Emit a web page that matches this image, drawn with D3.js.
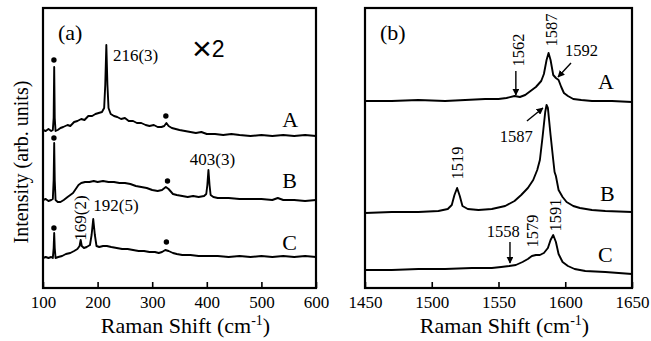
<!DOCTYPE html>
<meta charset="utf-8">
<script src="https://d3js.org/d3.v7.min.js"></script>
<style>
  body { margin: 0; background: #fff; }
  text { font-family: "Liberation Serif", "Times New Roman", serif; fill: #000; }
</style>
<div id="my_dataviz"></div>
<script>

// ---- data (x in cm-1, y in arb. units, traces offset) ----
var ticksA = [100, 200, 300, 400, 500, 600];
var ticksB = [1450, 1500, 1550, 1600, 1650];

// panel (a), low frequency
var lowA = [[100,158],[105,157],[110,159],[115,157],[118,158],[119.5,170],[120.5,221],[121.5,170],[123,157],
  [127,158],[132,160],[137,161],[145,163],[150,162],[157,166],[163,167],[170,169],[176,168],[183,172],[190,172],
  [196,174],[202,175],[208,176],[212,180],[214,203],[216,243],[218,203],[220,180],[224,174],[230,172],[236,171],
  [243,169],[250,170],[257,167],[265,167],[272,165],[280,165],[288,163],[295,162],[303,163],[310,161],[317,161],
  [322,162],[326,165],[330,162],[336,160],[343,159],[350,158],[360,157],[370,156],[380,155],[390,156],[400,154],
  [415,154],[430,153],[445,154],[460,153],[480,152],[500,153],[520,152],[540,153],[560,152],[580,153],[600,152]];
var lowB = [[100,88],[105,89],[110,87],[115,88],[118,89],[119.5,108],[120.5,145],[121.5,108],[123,88],[127,86],
  [132,86],[138,88],[145,91],[150,93],[155,95],[160,99],[165,103],[170,105],[177,106],[185,106],[193,107],
  [200,106],[210,107],[220,106],[230,106],[240,105],[250,105],[260,104],[270,102],[280,101],[290,100],[300,98],
  [310,97],[318,98],[325,101],[330,99],[338,94],[345,93],[355,92],[365,91],[375,92],[385,91],[395,92],[399,94],
  [401,103],[403,118],[405,103],[407,93],[412,91],[420,90],[440,90],[460,89],[480,89],[500,89],[520,88],
  [530,90],[540,88],[560,88],[580,87],[600,88]];
var lowC = [[100,30],[105,31],[110,30],[115,31],[118,30],[119.5,40],[120.5,55],[121.5,40],[123,30],[128,31],
  [135,32],[142,34],[150,35],[157,37],[163,39],[167,42],[169,48],[171,42],[175,40],[180,41],[186,43],[189,53],
  [192,69],[195,53],[198,42],[203,41],[210,42],[217,42],[225,41],[235,40],[245,39],[255,39],[265,38],[275,37],
  [285,37],[295,36],[305,36],[312,35],[318,36],[324,38],[330,37],[338,35],[345,34],[355,33],[370,33],[385,32],
  [400,32],[420,32],[440,31],[460,32],[480,31],[500,32],[520,31],[540,32],[560,31],[580,32],[600,31]];

// panel (b), G band region
var highA = [[1450,187],[1470,187],[1490,188],[1510,187],[1525,188],[1540,189],[1550,189],[1556,190],[1562,192],
  [1566,191],[1570,193],[1574,197],[1578,201],[1582,207],[1584,214],[1586,228],[1587.5,235],[1589,228],
  [1591,213],[1593,210],[1595,208],[1597,201],[1599,195],[1602,192],[1606,189],[1612,188],[1620,187],
  [1635,187],[1650,186]];
var highB = [[1450,75],[1470,76],[1490,76],[1505,77],[1512,79],[1515,83],[1517,93],[1519,100],[1521,92],
  [1523,82],[1527,79],[1535,78],[1545,79],[1555,82],[1562,87],[1567,93],[1572,100],[1576,108],[1579,118],
  [1581,128],[1583,151],[1585,176],[1586,183],[1587,180],[1589,153],[1591,128],[1592,116],[1593,112],
  [1595,98],[1598,91],[1601,86],[1606,82],[1611,80],[1620,78],[1630,77],[1650,76]];
var highC = [[1450,18],[1470,18],[1490,19],[1510,19],[1530,20],[1545,20],[1552,21],[1558,22],[1563,23],
  [1568,26],[1572,29],[1575,32],[1578,33],[1581,33],[1584,35],[1587,40],[1589,48],[1591,53],[1593,46],
  [1595,34],[1598,26],[1602,22],[1607,19],[1615,17],[1630,16],[1650,14]];

// plasma line markers (dots) in panel (a)
var dotsA = [[120,228],[325,172],[120,150],[328,107],[120,60],[326,46]];

// text labels: [text, x, y, anchor, rotated]
var labelsA = [["216(3)",228,227,"start",false],["403(3)",369,123,"start",false],
  ["192(5)",192,77,"start",false],["169(2)",168,70,"middle",true],
  ["A",538,161,"start",false],["B",538,100,"start",false],["C",538,38,"start",false]];
var labelsB = [["1562",1564.6,238,"middle",true],["1587",1589.3,258,"middle",true],
  ["1592",1599.8,232,"start",false],["1587",1551,146,"start",false],
  ["1519",1519,125,"middle",true],["1558",1566,51,"end",false],
  ["1579",1575,57,"middle",true],["1591",1592.3,73,"middle",true],
  ["A",1624.5,199,"start",false],["B",1626,87,"start",false],["C",1624.5,26,"start",false]];

// arrows: [x1, y1, x2, y2] (tail -> head)
var arrowsB = [[1563,217,1563,193],[1604.3,225,1594.6,211],[1571.3,167,1583.3,180],[1558.6,46,1558.6,25]];

// ---- layout ----
var W = 651, H = 341, yTop = 8, yBot = 288;

var svg = d3.select("#my_dataviz")
  .append("svg")
    .attr("width", W)
    .attr("height", H);

svg.append("defs").append("marker")
    .attr("id", "head")
    .attr("viewBox", "0 0 10 10")
    .attr("refX", 9).attr("refY", 5)
    .attr("markerWidth", 7).attr("markerHeight", 7)
    .attr("markerUnits", "userSpaceOnUse")
    .attr("orient", "auto")
  .append("path")
    .attr("d", "M0,0 L10,5 L0,10 Z");

var y = d3.scaleLinear().domain([0, 280]).range([yBot, yTop]);

function panel(x0, x1, domain, ticks, series, dots, labels, arrows, tag, numSize) {
  var x = d3.scaleLinear().domain(domain).range([x0, x1]);
  var g = svg.append("g");

  var line = d3.line()
    .x(function(d) { return x(d[0]); })
    .y(function(d) { return y(d[1]); });

  series.forEach(function(s) {
    g.append("path")
      .datum(s)
      .attr("fill", "none")
      .attr("stroke", "#000")
      .attr("stroke-width", 1.9)
      .attr("stroke-linejoin", "round")
      .attr("d", line);
  });

  g.selectAll("circle")
    .data(dots)
    .enter()
    .append("circle")
      .attr("cx", function(d) { return x(d[0]); })
      .attr("cy", function(d) { return y(d[1]); })
      .attr("r", 2.7)
      .attr("fill", "#000");

  arrows.forEach(function(a) {
    g.append("line")
      .attr("x1", x(a[0])).attr("y1", y(a[1]))
      .attr("x2", x(a[2])).attr("y2", y(a[3]))
      .attr("stroke", "#000")
      .attr("stroke-width", 1.4)
      .attr("marker-end", "url(#head)");
  });

  labels.forEach(function(l) {
    var big = l[0].length == 1;
    var t = g.append("text")
      .attr("text-anchor", l[3])
      .style("font-size", big ? "22px" : numSize)
      .text(l[0]);
    if (l[4]) {
      t.attr("transform", "translate(" + x(l[1]) + "," + y(l[2]) + ") rotate(-90)")
        .attr("dy", "0.35em");
    } else {
      t.attr("x", x(l[1])).attr("y", y(l[2]));
    }
  });

  // bottom axis with inward ticks
  var ax = g.append("g")
    .attr("transform", "translate(0," + yBot + ")")
    .call(d3.axisBottom(x).tickValues(ticks).tickSizeInner(-6).tickSizeOuter(0).tickPadding(8)
      .tickFormat(d3.format("d")));
  ax.select(".domain").remove();
  ax.selectAll("line").attr("stroke-width", 1.6);
  ax.selectAll("text").style("font-size", "17px").style("font-family", "Liberation Serif");

  // frame
  g.append("rect")
    .attr("x", x0).attr("y", yTop)
    .attr("width", x1 - x0).attr("height", yBot - yTop)
    .attr("fill", "none")
    .attr("stroke", "#000")
    .attr("stroke-width", 2.2);

  g.append("text")
    .attr("x", x0 + 15).attr("y", 40)
    .style("font-size", "22px")
    .text(tag);

  var title = g.append("text")
    .attr("x", (x0 + x1) / 2 + 6).attr("y", 333)
    .attr("text-anchor", "middle")
    .style("font-size", "22px");
  title.append("tspan").text("Raman Shift (cm");
  title.append("tspan").attr("dy", -8).style("font-size", "14px").text("-1");
  title.append("tspan").attr("dy", 8).text(")");
  return g;
}

var ga = panel(43, 316, [100, 600], ticksA, [lowA, lowB, lowC], dotsA, labelsA, [], "(a)", "17px");
panel(365, 632, [1450, 1650], ticksB, [highA, highB, highC], [], labelsB, arrowsB, "(b)", "16.5px");

var x2 = ga.append("text")
  .attr("x", 192).attr("y", 57)
  .style("font-family", "Liberation Sans");
x2.append("tspan").style("font-size", "34px").attr("dy", 3).text("\u00d7");
x2.append("tspan").style("font-size", "23px").attr("dy", -3).text("2");

svg.append("text")
  .attr("transform", "translate(28," + 162 + ") rotate(-90)")
  .attr("text-anchor", "middle")
  .style("font-size", "20px")
  .text("Intensity (arb. units)");

</script>
